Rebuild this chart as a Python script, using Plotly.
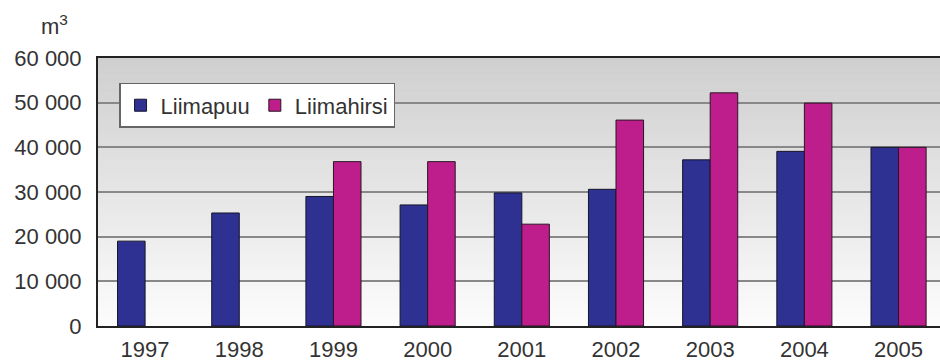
import plotly.graph_objects as go

years = ["1997", "1998", "1999", "2000", "2001", "2002", "2003", "2004", "2005"]
liimapuu = [19000, 25300, 29000, 27100, 29800, 30600, 37200, 39100, 40000]
liimahirsi = [None, None, 36800, 36800, 22800, 46100, 52200, 49900, 40000]
series_names = ["Liimapuu", "Liimahirsi"]
y_ticks = [0, 10000, 20000, 30000, 40000, 50000, 60000]

FONT = "Liberation Sans, Arial, sans-serif"
TXT = "#333333"
FS = 22

fig = go.Figure()
fig.add_trace(go.Bar(x=years, y=liimapuu, name=series_names[0],
                     marker=dict(color="#2E3192", line=dict(color="#15152a", width=1))))
fig.add_trace(go.Bar(x=years, y=liimahirsi, name=series_names[1],
                     marker=dict(color="#BE1E8C", line=dict(color="#2a1522", width=1))))

# vertical gradient background (gray at top -> white at bottom)
n = 60
top = (0xCF, 0xCF, 0xCF)
bot = (0xFC, 0xFC, 0xFC)
shapes = []
for i in range(n):
    t = i / (n - 1)
    c = tuple(int(round(bot[k] + (top[k] - bot[k]) * t)) for k in range(3))
    shapes.append(dict(type="rect", xref="paper", yref="paper",
                       x0=0, x1=1, y0=i / n, y1=(i + 1) / n + 0.002,
                       fillcolor="rgb(%d,%d,%d)" % c, line=dict(width=0),
                       layer="below"))

fig.update_layout(
    width=940, height=363,
    margin=dict(l=98, r=0, t=58, b=37, autoexpand=False),
    paper_bgcolor="white",
    plot_bgcolor="rgba(0,0,0,0)",
    separators=". ",
    barmode="group",
    bargap=0.415,
    bargroupgap=0,
    shapes=shapes,
    font=dict(family=FONT, size=FS, color=TXT),
    showlegend=True,
    legend=dict(orientation="h", x=0.025, y=0.907, xanchor="left", yanchor="top",
                bgcolor="white", bordercolor="#666666", borderwidth=1.5,
                font=dict(family=FONT, size=FS, color=TXT),
                itemwidth=30, tracegroupgap=0),
    annotations=[dict(text="m<sup>3</sup>", xref="paper", yref="paper",
                      x=-0.07, y=1.125, xanchor="left", yanchor="middle",
                      showarrow=False, font=dict(family=FONT, size=FS, color=TXT))],
)

fig.update_xaxes(type="category", range=[-0.5, 8.44], automargin=False,
                 showline=True, linecolor="#222222", linewidth=2, mirror=True,
                 showgrid=False, ticks="", ticklabelstandoff=3,
                 tickfont=dict(family=FONT, size=FS, color=TXT))
fig.update_yaxes(range=[0, 60000], tickvals=y_ticks, tickformat=",d", automargin=False,
                 showline=True, linecolor="#222222", linewidth=2, mirror=False,
                 showgrid=True, gridcolor="#888888", gridwidth=1.5,
                 zeroline=False, ticks="", ticklabelstandoff=10,
                 tickfont=dict(family=FONT, size=FS, color=TXT))

fig.write_html("out.html")
